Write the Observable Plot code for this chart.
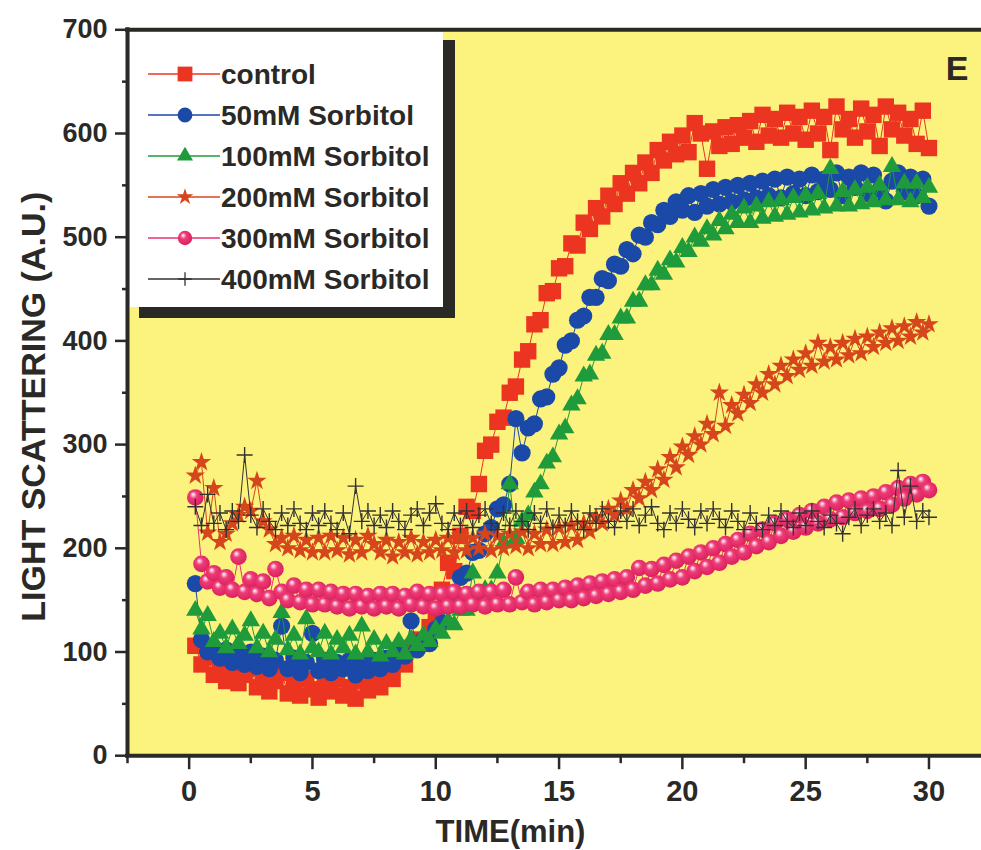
<!DOCTYPE html>
<html>
<head>
<meta charset="utf-8">
<script src="https://cdn.jsdelivr.net/npm/d3@7"></script>
<script src="https://cdn.jsdelivr.net/npm/@observablehq/plot@0.6"></script>
<style>
  html, body { margin: 0; padding: 0; background: #ffffff; }
  #chart { width: 981px; height: 850px; }
</style>
</head>
<body>
<div id="chart"></div>
<script>
// Sampling times (min)
const times = [
  0.25, 0.5, 0.75, 1, 1.25, 1.5, 1.75, 2, 2.25, 2.5,
  2.75, 3, 3.25, 3.5, 3.75, 4, 4.25, 4.5, 4.75, 5,
  5.25, 5.5, 5.75, 6, 6.25, 6.5, 6.75, 7, 7.25, 7.5,
  7.75, 8, 8.25, 8.5, 8.75, 9, 9.25, 9.5, 9.75, 10,
  10.25, 10.5, 10.75, 11, 11.25, 11.5, 11.75, 12, 12.25, 12.5,
  12.75, 13, 13.25, 13.5, 13.75, 14, 14.25, 14.5, 14.75, 15,
  15.25, 15.5, 15.75, 16, 16.25, 16.5, 16.75, 17, 17.25, 17.5,
  17.75, 18, 18.25, 18.5, 18.75, 19, 19.25, 19.5, 19.75, 20,
  20.25, 20.5, 20.75, 21, 21.25, 21.5, 21.75, 22, 22.25, 22.5,
  22.75, 23, 23.25, 23.5, 23.75, 24, 24.25, 24.5, 24.75, 25,
  25.25, 25.5, 25.75, 26, 26.25, 26.5, 26.75, 27, 27.25, 27.5,
  27.75, 28, 28.25, 28.5, 28.75, 29, 29.25, 29.5, 29.75, 30
];

// Light scattering (A.U.) for each condition
const control = [
  106, 88, 95, 78, 86, 72, 82, 70, 78, 84,
  66, 75, 62, 72, 80, 60, 70, 58, 74, 64,
  56, 70, 62, 74, 58, 66, 55, 72, 63, 76,
  66, 80, 74, 90, 88, 104, 112, 108, 124, 132,
  160, 186, 178, 212, 240, 236, 262, 294, 300, 322,
  326, 350, 356, 382, 390, 416, 420, 446, 448, 470,
  472, 494, 492, 514, 508, 528, 520, 540, 532, 552,
  542, 562, 552, 572, 562, 584, 574, 592, 580, 598,
  582, 610, 600, 566, 602, 588, 606, 590, 608, 596,
  612, 592, 618, 598, 614, 596, 620, 600, 616, 594,
  622, 600, 616, 584, 626, 604, 614, 596, 624, 602,
  618, 588, 626, 604, 620, 598, 614, 590, 622, 586
];
const sorbitol50 = [
  166, 112, 100, 104, 94, 102, 90, 98, 88, 100,
  86, 96, 84, 92, 125, 84, 94, 80, 90, 118,
  82, 92, 80, 90, 84, 92, 78, 88, 82, 92,
  84, 94, 88, 100, 96, 130, 102, 112, 108, 122,
  128, 150, 154, 172, 176, 196, 198, 214, 220, 238,
  242, 262, 325, 292, 316, 320, 344, 346, 368, 374,
  396, 400, 420, 424, 442, 442, 460, 458, 474, 472,
  488, 484, 502, 500, 514, 512, 526, 520, 534, 526,
  540, 524, 542, 530, 546, 532, 548, 534, 550, 536,
  552, 538, 554, 540, 556, 538, 558, 542, 556, 540,
  560, 544, 556, 546, 562, 540, 558, 548, 562, 542,
  560, 546, 535, 554, 562, 544, 558, 540, 556, 530
];
const sorbitol100 = [
  140, 122, 135, 110, 118, 104, 122, 108, 116, 130,
  104, 118, 100, 112, 138, 102, 116, 98, 132, 104,
  100, 118, 98, 112, 104, 116, 98, 125, 100, 112,
  96, 108, 100, 110, 98, 112, 106, 116, 110, 122,
  118, 130, 126, 140, 140, 176, 146, 160, 160, 176,
  205, 262, 210, 226, 232, 254, 262, 282, 288, 310,
  316, 338, 344, 366, 368, 386, 388, 406, 406, 422,
  422, 438, 438, 454, 454, 468, 464, 478, 476, 490,
  486, 500, 496, 508, 502, 516, 508, 522, 514, 528,
  514, 530, 518, 534, 520, 536, 522, 538, 524, 540,
  526, 542, 528, 566, 530, 544, 530, 546, 532, 548,
  534, 550, 536, 568, 536, 552, 534, 552, 538, 548
];
const sorbitol200 = [
  270, 283, 215, 258, 206, 214, 224, 232, 240, 236,
  265, 226, 218, 204, 210, 200, 212, 198, 208, 196,
  210, 196, 212, 198, 210, 194, 208, 196, 212, 204,
  196, 208, 192, 206, 196, 210, 194, 206, 196, 208,
  198, 210, 196, 212, 198, 210, 200, 214, 198, 212,
  200, 214, 202, 216, 200, 214, 204, 218, 204, 220,
  206, 222, 208, 224, 216, 230, 224, 238, 232, 246,
  238, 256, 248, 264, 256, 276, 266, 288, 278, 298,
  290, 308, 300, 320, 310, 350, 318, 338, 330, 348,
  340, 358, 350, 368, 358, 376, 366, 382, 372, 388,
  376, 398, 380, 394, 382, 398, 386, 402, 388, 404,
  394, 408, 398, 412, 400, 414, 404, 418, 408, 416
];
const sorbitol300 = [
  249, 185, 168, 176, 162, 172, 160, 192, 158, 170,
  156, 168, 152, 180, 158, 150, 164, 148, 160, 146,
  160, 146, 158, 144, 156, 142, 156, 144, 154, 142,
  156, 144, 156, 142, 154, 146, 158, 144, 156, 142,
  156, 144, 158, 144, 156, 146, 158, 144, 158, 146,
  160, 146, 172, 148, 158, 146, 160, 148, 160, 150,
  162, 150, 164, 152, 166, 154, 168, 156, 170, 158,
  172, 160, 181, 164, 180, 166, 184, 170, 188, 172,
  192, 178, 196, 182, 200, 186, 204, 192, 208, 196,
  214, 202, 218, 206, 224, 212, 228, 216, 232, 220,
  236, 224, 240, 228, 244, 230, 246, 234, 248, 236,
  250, 238, 254, 242, 258, 248, 262, 252, 264, 256
];
const sorbitol400 = [
  240, 222, 252, 224, 234, 218, 236, 226, 290, 232,
  220, 238, 226, 218, 234, 222, 238, 224, 218, 234,
  222, 236, 224, 218, 234, 214, 260, 226, 236, 222,
  232, 220, 236, 226, 218, 232, 238, 222, 234, 243,
  224, 218, 234, 222, 236, 220, 232, 238, 224, 218,
  234, 222, 236, 226, 218, 234, 224, 238, 220, 232,
  222, 236, 226, 218, 234, 224, 238, 226, 220, 236,
  226, 238, 222, 232, 240, 224, 218, 234, 224, 238,
  228, 220, 236, 224, 238, 228, 220, 236, 226, 218,
  234, 224, 218, 232, 222, 236, 226, 220, 234, 222,
  236, 226, 220, 232, 224, 214, 230, 238, 222, 232,
  238, 226, 234, 222, 275, 230, 260, 226, 236, 230
];

const seriesNames = ["control", "50mM Sorbitol", "100mM Sorbitol", "200mM Sorbitol", "300mM Sorbitol", "400mM Sorbitol"];

// Axis ticks
const xTicks = [0, 5, 10, 15, 20, 25, 30];
const xMinorTicks = [-2.5, 2.5, 7.5, 12.5, 17.5, 22.5, 27.5];
const yTicks = [0, 100, 200, 300, 400, 500, 600, 700];
const yMinorTicks = [50, 150, 250, 350, 450, 550, 650];

const ink = "#2a2926";
const panelFill = "#fcf27e";
const fontFamily = "'Liberation Sans', Arial, Helvetica, sans-serif";

// Marker shapes; the size argument is pi*r^2, so r is recovered as the half extent
const half = size => Math.sqrt(size / Math.PI);
const squareSym = { draw(ctx, size) { const h = half(size); ctx.rect(-h, -h, 2 * h, 2 * h); } };
const triangleSym = { draw(ctx, size) {
  const h = half(size), t = h * Math.sqrt(3);
  ctx.moveTo(0, -t * 2 / 3); ctx.lineTo(h, t / 3); ctx.lineTo(-h, t / 3); ctx.closePath();
} };
const starSym = { draw(ctx, size) { const R = half(size); d3.symbolStar.draw(ctx, R * R / 0.8908130915292852); } };
const plusSym = { draw(ctx, size) {
  const h = half(size);
  ctx.moveTo(-h, 0); ctx.lineTo(h, 0); ctx.moveTo(0, -h); ctx.lineTo(0, h);
} };

const styles = [
  { values: control,     color: "#ec3521", symbol: squareSym,   r: 8.2, legendR: 7.4, fill: "#ec3521", stroke: "none" },
  { values: sorbitol50,  color: "#1a49a8", symbol: "circle",    r: 8.6, legendR: 7.4, fill: "#1a49a8", stroke: "none" },
  { values: sorbitol100, color: "#1f9b3b", symbol: triangleSym, r: 9.2, legendR: 8.0, fill: "#1f9b3b", stroke: "none" },
  { values: sorbitol200, color: "#d6461c", symbol: starSym,     r: 10.2, legendR: 8.8, fill: "#d6461c", stroke: "none" },
  { values: sorbitol300, color: "#e93270", symbol: "circle",    r: 8.3, legendR: 7.2, fill: "url(#sphere)", stroke: "none" },
  { values: sorbitol400, color: "#333230", symbol: plusSym,     r: 8.0, legendR: 6.8, fill: "none", stroke: "#333230" }
];

const series = styles.map((s, k) => ({
  ...s,
  name: seriesNames[k],
  rows: times.map((t, i) => ({ t, v: s.values[i] }))
}));

const dataMarks = series.flatMap(s => [
  Plot.line(s.rows, { x: "t", y: "v", stroke: s.color, strokeWidth: 1 }),
  Plot.dot(s.rows, {
    x: "t", y: "v", r: s.r, symbol: s.symbol,
    fill: s.fill, stroke: s.stroke, strokeWidth: s.stroke === "none" ? 0 : 1.4
  })
]);

const chart = Plot.plot({
  width: 981,
  height: 850,
  marginLeft: 127,
  marginRight: 0,
  marginTop: 29.3,
  marginBottom: 94.8,
  x: { domain: [-2.5, 32.13] },
  y: { domain: [0, 700] },
  style: { fontFamily, fontWeight: "bold", color: ink, background: "#ffffff" },
  marks: [
    Plot.frame({ fill: panelFill, stroke: "none" }),
    ...dataMarks,
    Plot.ruleX([-2.5], { stroke: ink, strokeWidth: 4, strokeLinecap: "square" }),
    Plot.ruleY([0], { stroke: ink, strokeWidth: 4, strokeLinecap: "square" }),
    Plot.ruleY([700], { stroke: ink, strokeWidth: 4, strokeLinecap: "square" }),
    Plot.axisY(yTicks, { tickSize: 12, tickPadding: 8, fontSize: 27, strokeWidth: 2.5, fill: ink, stroke: ink, label: null }),
    Plot.axisY(yMinorTicks, { tickSize: 5, strokeWidth: 2.5, stroke: ink, fill: "none", label: null }),
    Plot.axisX(xTicks, { tickSize: 14, tickPadding: 11, fontSize: 29, strokeWidth: 2.5, fill: ink, stroke: ink, label: null }),
    Plot.axisX(xMinorTicks, { tickSize: 8, strokeWidth: 2.5, stroke: ink, fill: "none", label: null }),
    Plot.text(["LIGHT SCATTERING (A.U.)"], {
      text: d => d, frameAnchor: "left", textAnchor: "middle", lineAnchor: "middle",
      rotate: -90, dx: -93, dy: 14, fontSize: 34, fontWeight: "bold", fill: ink
    }),
    Plot.text(["TIME(min)"], {
      text: d => d, frameAnchor: "bottom", textAnchor: "middle", lineAnchor: "middle",
      dx: -44, dy: 76, fontSize: 31, fontWeight: "bold", fill: ink
    }),
    Plot.text(["E"], {
      text: d => d, frameAnchor: "top-left", textAnchor: "middle", lineAnchor: "middle",
      dx: 829.5, dy: 39, fontSize: 34, fontWeight: "bold", fill: ink
    })
  ]
});

const svg = d3.select(chart);

// Shaded sphere fill for the 300mM markers
svg.insert("defs", ":first-child").html(
  `<radialGradient id="sphere" cx="0.45" cy="0.45" r="0.6" fx="0.36" fy="0.3">
     <stop offset="0" stop-color="#ffffff"/>
     <stop offset="0.14" stop-color="#f9b3cb"/>
     <stop offset="0.36" stop-color="#ee3c77"/>
     <stop offset="1" stop-color="#d81d5b"/>
   </radialGradient>`
);

// Legend box with drop shadow
const legend = svg.append("g").attr("class", "legend").attr("text-anchor", "start");
legend.append("rect").attr("x", 139).attr("y", 40).attr("width", 316).attr("height", 278).attr("fill", ink);
legend.append("rect").attr("x", 130).attr("y", 32).attr("width", 313).attr("height", 275).attr("fill", "#ffffff");

series.forEach((s, i) => {
  const cy = 74 + i * 41;
  const row = legend.append("g");
  row.append("line").attr("x1", 148).attr("x2", 220).attr("y1", cy).attr("y2", cy)
    .attr("stroke", s.color).attr("stroke-width", 1.5);
  const shape = typeof s.symbol === "string" ? d3.symbolCircle : s.symbol;
  const r = s.legendR;
  row.append("path")
    .attr("transform", `translate(185,${cy})`)
    .attr("d", d3.symbol(shape, Math.PI * r * r)())
    .attr("fill", s.fill)
    .attr("stroke", s.stroke)
    .attr("stroke-width", s.stroke === "none" ? 0 : 1.3);
  row.append("text")
    .attr("x", 221).attr("y", cy + 10)
    .attr("text-anchor", "start")
    .attr("font-size", 28).attr("font-weight", "bold")
    .attr("font-family", fontFamily)
    .attr("fill", ink)
    .text(s.name);
});

document.getElementById("chart").appendChild(chart);
</script>
</body>
</html>
